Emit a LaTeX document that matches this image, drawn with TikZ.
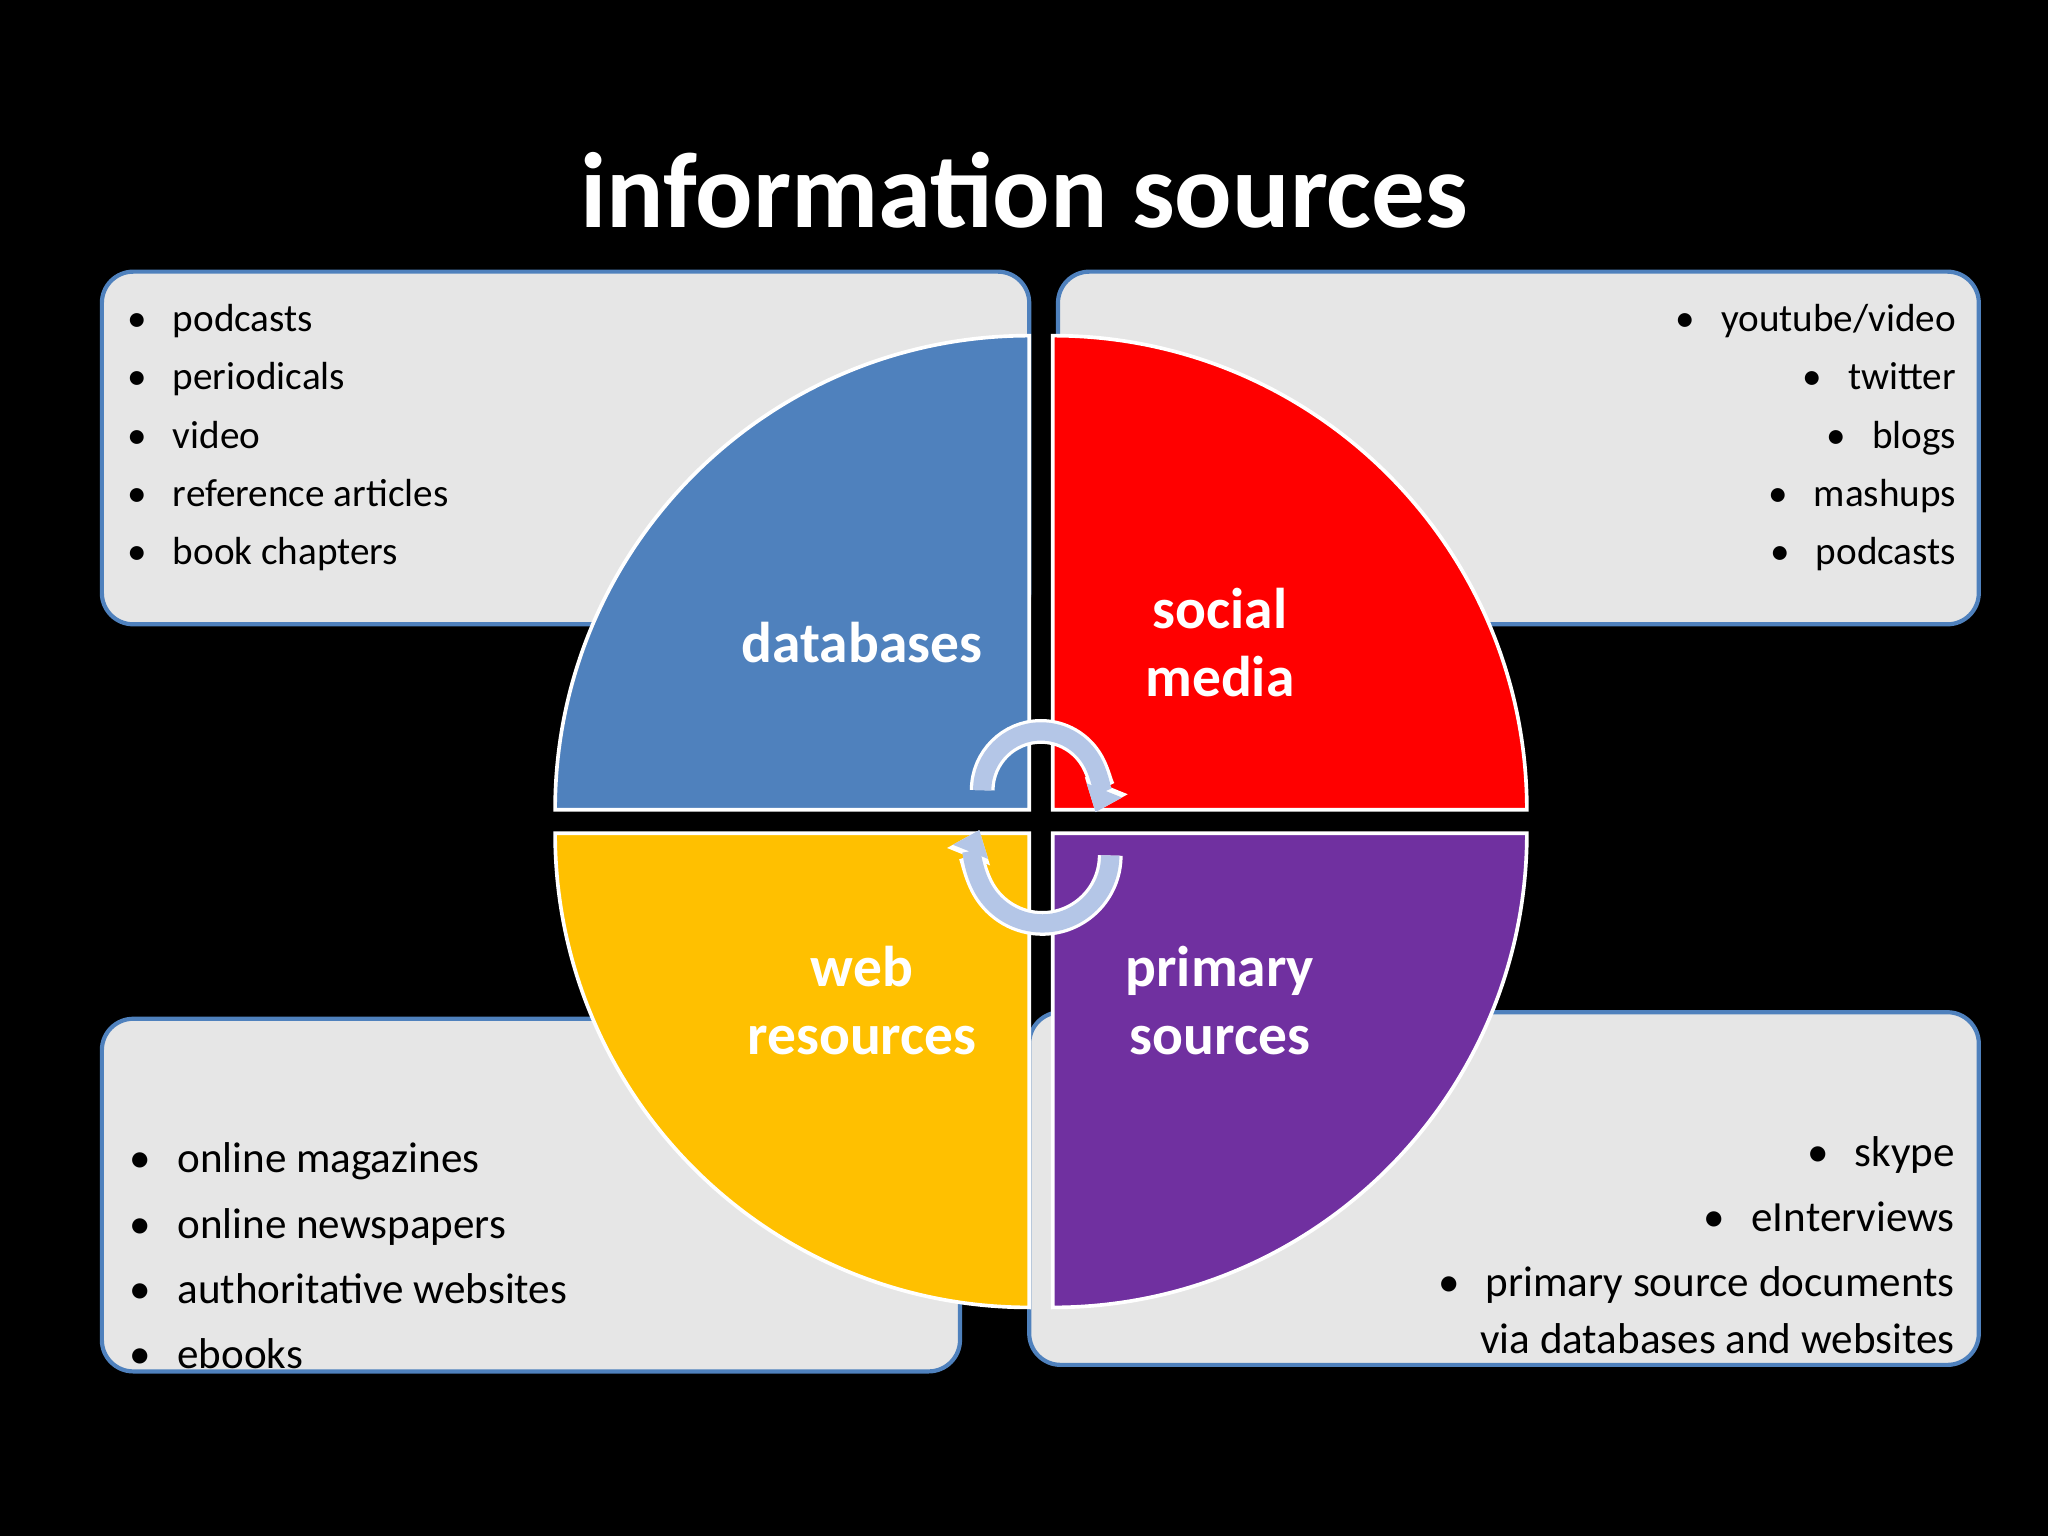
\documentclass[tikz,border=0pt]{standalone}
\usepackage{fontspec}
\setmainfont{Carlito}
\usetikzlibrary{arrows.meta}
\definecolor{qblue}{HTML}{4F81BD}
\definecolor{qred}{HTML}{FF0000}
\definecolor{qyel}{HTML}{FFC000}
\definecolor{qpur}{HTML}{7030A0}
\definecolor{boxfill}{HTML}{E6E6E6}
\definecolor{arrfill}{HTML}{B4C6E7}
\tikzset{
 infobox/.style={draw=qblue,fill=boxfill,line width=1.6pt,rounded corners=12pt},
 quad/.style={draw=white,line width=1.4pt},
 itemL/.style={anchor=base west,font=\fontsize{15}{18}\selectfont,inner sep=0pt},
 itemR/.style={anchor=base east,font=\fontsize{15}{18}\selectfont,inner sep=0pt},
 itemBL/.style={anchor=base west,font=\fontsize{16.5}{19}\selectfont,inner sep=0pt},
 itemBR/.style={anchor=base east,font=\fontsize{16.5}{19}\selectfont,inner sep=0pt},
 qlabel/.style={text=white,font=\bfseries\fontsize{22}{26}\selectfont,align=center},
 cyc/.style={line width=7pt,draw=arrfill,-{Triangle[length=9pt,width=14pt]}},
 cycout/.style={line width=9.5pt,draw=white,-{Triangle[length=11pt,width=17pt]}}
}
\begin{document}
\begin{tikzpicture}[x=0.5pt,y=0.5pt]
\fill[black] (0,0) rectangle (1568,1176);
\useasboundingbox (0,0) rectangle (1568,1176);
\node[text=white,font=\bfseries\fontsize{41}{48}\selectfont] (title) at (784,1030) {information sources};
% boxes
\draw[infobox] (78,698) rectangle (788,968);
\draw[infobox] (810,698) rectangle (1515,968);
\draw[infobox] (78,126) rectangle (735,396);
\draw[infobox] (788,131) rectangle (1515,401);
% quadrants
\draw[quad,fill=qblue] (788,556) -- ++(-363,0) arc[start angle=180,end angle=90,radius=181.5pt] -- cycle;
\draw[quad,fill=qred] (806,556) -- ++(0,363) arc[start angle=90,end angle=0,radius=181.5pt] -- cycle;
\draw[quad,fill=qyel] (788,538) -- ++(-363,0) arc[start angle=180,end angle=270,radius=181.5pt] -- cycle;
\draw[quad,fill=qpur] (806,538) -- ++(363,0) arc[start angle=0,end angle=-90,radius=181.5pt] -- cycle;
% labels
\node[qlabel] (db) at (660,684) {databases};
\node[qlabel] (sm) at (934,684) {social\\media};
\node[qlabel] (wr) at (660,410) {web\\resources};
\node[qlabel] (ps) at (934,410) {primary\\sources};
% cycle arrows
\coordinate (cu) at (797,571);
\coordinate (cl) at (797,521);
\draw[cycout] (cu) ++(-45,0) arc[start angle=180,end angle=-22,radius=22.5pt];
\draw[cyc] (cu) ++(-45,0) arc[start angle=180,end angle=-22,radius=22.5pt];
\draw[cycout] (cl) ++(53,0) arc[start angle=0,end angle=-202,radius=26pt];
\draw[cyc] (cl) ++(53,0) arc[start angle=0,end angle=-202,radius=26pt];
% top-left items
\foreach \t [count=\i] in {podcasts,periodicals,video,reference articles,book chapters}{
  \node[itemL] (tl\i) at (97,{1176-244-10-44.6*(\i-1)}) {\textbullet\hspace{10pt}\t};}
% top-right items
\foreach \t [count=\i] in {youtube/video,twitter,blogs,mashups,podcasts}{
  \node[itemR] (tr\i) at (1498,{1176-244-10-44.6*(\i-1)}) {\textbullet\hspace{10pt}\t};}
% bottom-left
\foreach \t [count=\i] in {online magazines,online newspapers,authoritative websites,ebooks}{
  \node[itemBL] (bl\i) at (99,{1176-887-11-50*(\i-1)}) {\textbullet\hspace{10pt}\t};}
% bottom-right
\node[itemBR] (br1) at (1497,{1176-882-11}) {\textbullet\hspace{10pt}skype};
\node[itemBR] (br2) at (1497,{1176-932-11}) {\textbullet\hspace{10pt}eInterviews};
\node[itemBR] (br3) at (1497,{1176-982-11}) {\textbullet\hspace{10pt}primary source documents};
\node[itemBR] (br4) at (1497,{1176-1025-11}) {via databases and websites};
\end{tikzpicture}
\end{document}
